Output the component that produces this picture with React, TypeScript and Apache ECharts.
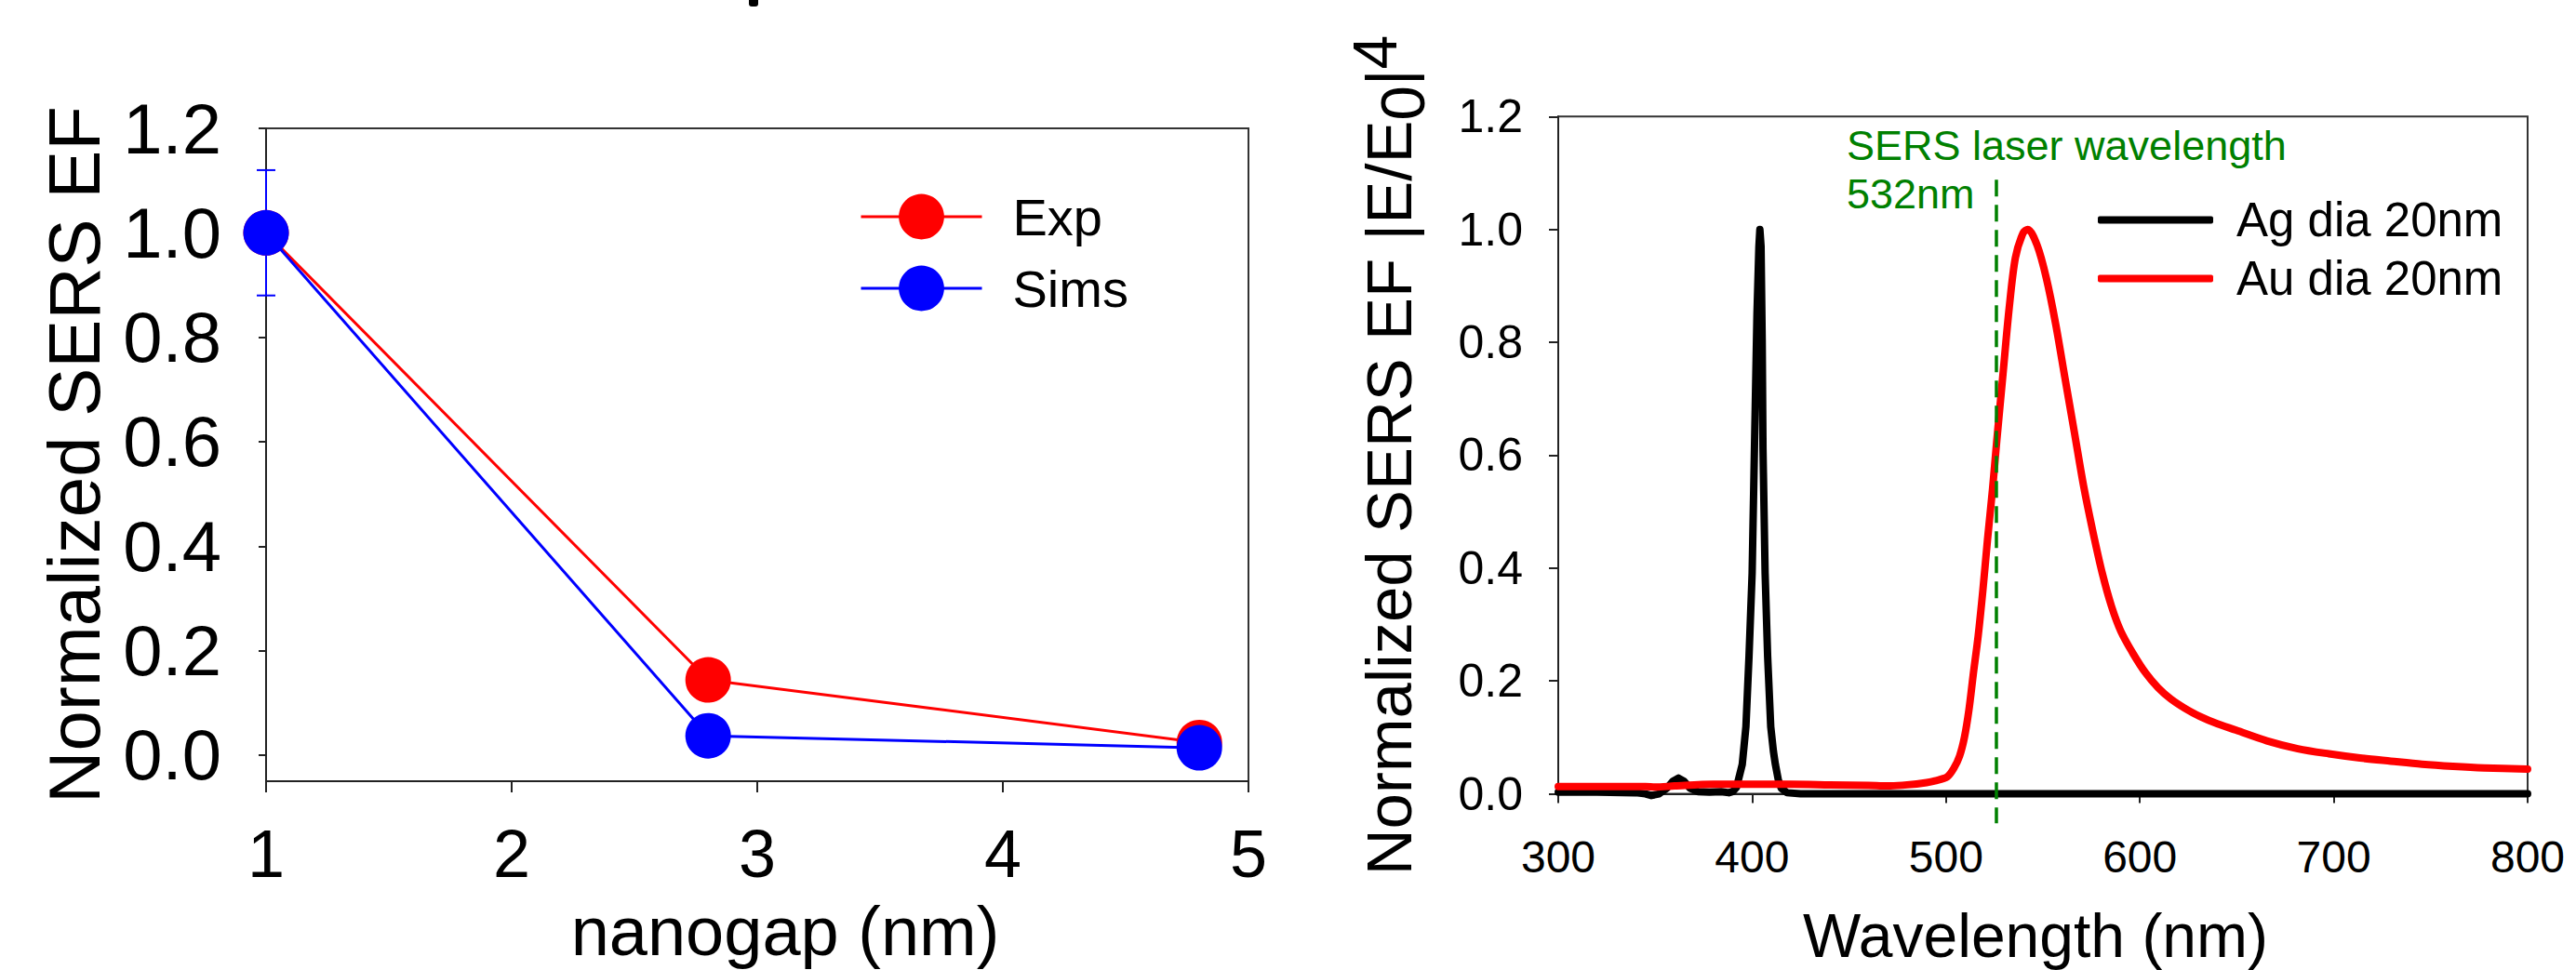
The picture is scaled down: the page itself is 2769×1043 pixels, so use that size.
import React, { useEffect, useRef } from "react";
import * as echarts from "echarts";

const FONT = "'Liberation Sans', Arial, Helvetica, sans-serif";

// ---- Left panel: SERS EF vs nanogap ----
const gapNm = [1, 2.8, 4.8];
const expEF = [1.0, 0.144, 0.024];
const simsEF = [1.0, 0.037, 0.014];
const simsErr = [0.12, 0, 0];
const leftYTicks = [0, 0.2, 0.4, 0.6, 0.8, 1.0, 1.2];

// ---- Right panel: spectra ----
const agSpectrum: [number, number][] = [
  [300, 0.003], [320, 0.003], [340, 0.002], [345, 0.0], [348, -0.003], [352, 0.0],
  [356, 0.01], [359, 0.022], [362, 0.028], [365, 0.022], [368, 0.01], [372, 0.004],
  [378, 0.003], [384, 0.004], [388, 0.002], [390, 0.004], [392, 0.012], [394.9, 0.052],
  [396.8, 0.119], [398.4, 0.244], [400, 0.391], [401.2, 0.611], [402.5, 0.85],
  [403.5, 0.97], [404, 1.0], [404.6, 0.97], [405.2, 0.8], [405.6, 0.611], [406.7, 0.391],
  [408, 0.244], [409.6, 0.119], [411, 0.075], [412, 0.052], [413.5, 0.025], [415, 0.01],
  [418, 0.002], [425, 0], [500, 0], [600, 0], [700, 0], [800, 0],
];
const auSpectrum: [number, number][] = [
  [300, 0.013], [320, 0.013], [345, 0.013], [350, 0.012], [360, 0.014], [380, 0.017],
  [400, 0.017], [420, 0.017], [440, 0.016], [460, 0.015], [470, 0.014], [480, 0.016],
  [490, 0.02], [494.3, 0.023], [500.6, 0.03], [504, 0.045], [507, 0.067], [509.5, 0.1],
  [511.8, 0.148], [514, 0.21], [516.6, 0.28], [519, 0.36], [521.4, 0.45], [524, 0.54],
  [526.2, 0.626], [529.4, 0.744], [532.6, 0.861], [535.8, 0.95], [539.8, 0.994],
  [542.2, 1.0], [547, 0.972], [551.8, 0.913], [556.6, 0.832], [561.4, 0.736],
  [566.2, 0.641], [571, 0.545], [575.8, 0.464], [580.6, 0.391], [585.4, 0.332],
  [590.2, 0.288], [596.6, 0.248], [603, 0.214], [609.4, 0.188], [616, 0.168],
  [623, 0.152], [631, 0.137], [640, 0.124], [649.5, 0.113], [665.5, 0.094],
  [681.5, 0.08], [697.5, 0.071], [713.5, 0.0636], [729.5, 0.058], [745.5, 0.0526],
  [761.5, 0.0488], [777.5, 0.046], [800, 0.044],
];
const laserLine: [number, number][] = [[526, 1.088], [526, -0.052]];

const AXIS_COLOR = "#222";

export default function App() {
  const ref = useRef<HTMLDivElement>(null);
  useEffect(() => {
    document.body.style.margin = "0";
    if (!ref.current) return;
    const chart = echarts.init(ref.current, null, { renderer: "svg" });
    const fmt1 = (v: number) => v.toFixed(1);
    const option: any = {
      animation: false,
      backgroundColor: "#ffffff",
      textStyle: { fontFamily: FONT },
      grid: [
        { left: 286, top: 138, width: 1056, height: 702, show: true, borderColor: "#333", borderWidth: 2, outerBoundsMode: "none", containLabel: false },
        { left: 1675, top: 125.3, width: 1042, height: 728.3, show: true, borderColor: "#333", borderWidth: 2, outerBoundsMode: "none", containLabel: false },
      ],
      xAxis: [
        {
          gridIndex: 0, type: "value", min: 1, max: 5, interval: 1,
          axisLine: { show: true, onZero: false, lineStyle: { color: AXIS_COLOR, width: 2 } },
          axisTick: { show: true, length: 12, lineStyle: { color: AXIS_COLOR, width: 2 } },
          axisLabel: { fontSize: 72, lineHeight: 60, color: "#000", margin: 48, fontFamily: FONT },
          splitLine: { show: false },
          name: "nanogap (nm)", nameLocation: "middle", nameGap: 124, nameMoveOverlap: false,
          nameTextStyle: { fontSize: 74, lineHeight: 74, color: "#000", fontFamily: FONT, padding: [0, 0, 0, 60] },
        },
        {
          gridIndex: 1, type: "value", min: 300, max: 800, interval: 100,
          axisLine: { show: true, onZero: false, lineStyle: { color: AXIS_COLOR, width: 2 } },
          axisTick: { show: true, length: 10, lineStyle: { color: AXIS_COLOR, width: 2 } },
          axisLabel: { fontSize: 48, color: "#000", margin: 44, fontFamily: FONT },
          splitLine: { show: false },
          name: "Wavelength (nm)", nameLocation: "middle", nameGap: 119, nameMoveOverlap: false,
          nameTextStyle: { fontSize: 66, lineHeight: 66, color: "#000", fontFamily: FONT, padding: [0, 16, 0, 0] },
        },
      ],
      yAxis: [
        {
          gridIndex: 0, type: "value", min: -0.05, max: 1.2,
          axisLine: { show: true, onZero: false, lineStyle: { color: AXIS_COLOR, width: 2 } },
          axisTick: { show: true, length: 8, customValues: leftYTicks, lineStyle: { color: AXIS_COLOR, width: 2 } },
          axisLabel: { customValues: leftYTicks, formatter: fmt1, fontSize: 76, color: "#000", margin: 48, fontFamily: FONT },
          splitLine: { show: false },
          name: "Normalized SERS EF", nameLocation: "middle", nameGap: 167, nameRotate: 90, nameMoveOverlap: false,
          nameTextStyle: { fontSize: 78, lineHeight: 78, color: "#000", fontFamily: FONT },
        },
        {
          gridIndex: 1, type: "value", min: 0, max: 1.2, interval: 0.2,
          axisLine: { show: true, onZero: false, lineStyle: { color: AXIS_COLOR, width: 2 } },
          axisTick: { show: true, length: 10, lineStyle: { color: AXIS_COLOR, width: 2 } },
          axisLabel: { formatter: fmt1, fontSize: 50, color: "#000", margin: 38, fontFamily: FONT },
          splitLine: { show: false },
          name: "{a|Normalized SERS EF |E/E}{b|0}{a||}{c|4}",
          nameLocation: "middle", nameGap: 134, nameRotate: 90, nameMoveOverlap: false,
          nameTextStyle: {
            color: "#000", fontFamily: FONT,
            rich: {
              a: { fontSize: 69, lineHeight: 96, fontFamily: FONT, color: "#000" },
              b: { fontSize: 67, lineHeight: 68, verticalAlign: "bottom", fontFamily: FONT, color: "#000" },
              c: { fontSize: 66, lineHeight: 58, verticalAlign: "top", fontFamily: FONT, color: "#000" },
            },
          },
        },
      ],
      legend: [
        {
          data: [{ name: "Exp" }, { name: "Sims" }],
          orient: "vertical", left: 924, top: 205, padding: 0,
          itemWidth: 130, itemHeight: 61, itemGap: 21, selectedMode: false,
          lineStyle: { width: 3 },
          textStyle: { fontSize: 56, color: "#000", fontFamily: FONT, padding: [0, 0, 0, 28] },
        },
        {
          data: [{ name: "Ag dia 20nm", icon: "roundRect" }, { name: "Au dia 20nm", icon: "roundRect" }],
          orient: "vertical", left: 2255, top: 211, padding: 0,
          itemWidth: 124, itemHeight: 8, itemGap: 12, selectedMode: false,
          textStyle: { fontSize: 51, color: "#000", fontFamily: FONT, padding: [0, 0, 0, 20] },
        },
      ],
      graphic: [
        { type: "text", x: 1985, y: 156, style: { text: "SERS laser wavelength", fontSize: 45, fontFamily: FONT, fill: "#008000", verticalAlign: "middle", align: "left" } },
        { type: "text", x: 1985, y: 208, style: { text: "532nm", fontSize: 45, fontFamily: FONT, fill: "#008000", verticalAlign: "middle", align: "left" } },
        { type: "rect", shape: { x: 805, y: -6, width: 10, height: 13, r: 3 }, style: { fill: "#000" } },
      ],
      series: [
        {
          type: "custom", name: "SimsErr", xAxisIndex: 0, yAxisIndex: 0, z: 1,
          data: gapNm.map((x, i) => [x, simsEF[i], simsErr[i]]).filter((d) => d[2] > 0),
          renderItem: (_params: any, api: any) => {
            const x = api.value(0), y = api.value(1), e = api.value(2);
            const top = api.coord([x, y + e]);
            const bot = api.coord([x, y - e]);
            const cap = 10;
            const st = { stroke: "#0000ff", lineWidth: 2 };
            return {
              type: "group",
              children: [
                { type: "line", shape: { x1: top[0], y1: top[1], x2: bot[0], y2: bot[1] }, style: st },
                { type: "line", shape: { x1: top[0] - cap, y1: top[1], x2: top[0] + cap, y2: top[1] }, style: st },
                { type: "line", shape: { x1: bot[0] - cap, y1: bot[1], x2: bot[0] + cap, y2: bot[1] }, style: st },
              ],
            };
          },
        },
        {
          type: "line", name: "Exp", xAxisIndex: 0, yAxisIndex: 0, z: 2,
          data: gapNm.map((x, i) => [x, expEF[i]]),
          symbol: "circle", symbolSize: 49, showSymbol: true,
          lineStyle: { color: "#ff0000", width: 3 }, itemStyle: { color: "#ff0000" },
        },
        {
          type: "line", name: "Sims", xAxisIndex: 0, yAxisIndex: 0, z: 3,
          data: gapNm.map((x, i) => [x, simsEF[i]]),
          symbol: "circle", symbolSize: 49, showSymbol: true,
          lineStyle: { color: "#0000ff", width: 3 }, itemStyle: { color: "#0000ff" },
        },
        {
          type: "line", name: "Ag dia 20nm", xAxisIndex: 1, yAxisIndex: 1, z: 2,
          data: agSpectrum, symbol: "none", showSymbol: false, clip: false,
          lineStyle: { color: "#000000", width: 8, cap: "round", join: "round" }, itemStyle: { color: "#000000" },
        },
        {
          type: "line", name: "Au dia 20nm", xAxisIndex: 1, yAxisIndex: 1, z: 3,
          data: auSpectrum, symbol: "none", showSymbol: false, smooth: 0.3, clip: false,
          lineStyle: { color: "#ff0000", width: 8, cap: "round", join: "round" }, itemStyle: { color: "#ff0000" },
        },
        {
          type: "line", name: "laser", xAxisIndex: 1, yAxisIndex: 1, z: 4,
          data: laserLine, symbol: "none", showSymbol: false, clip: false, silent: true,
          lineStyle: { color: "#008000", width: 3.5, type: [18, 9] },
        },
      ],
    };
    chart.setOption(option);
    return () => chart.dispose();
  }, []);
  return <div ref={ref} style={{ width: 2769, height: 1043 }} />;
}
